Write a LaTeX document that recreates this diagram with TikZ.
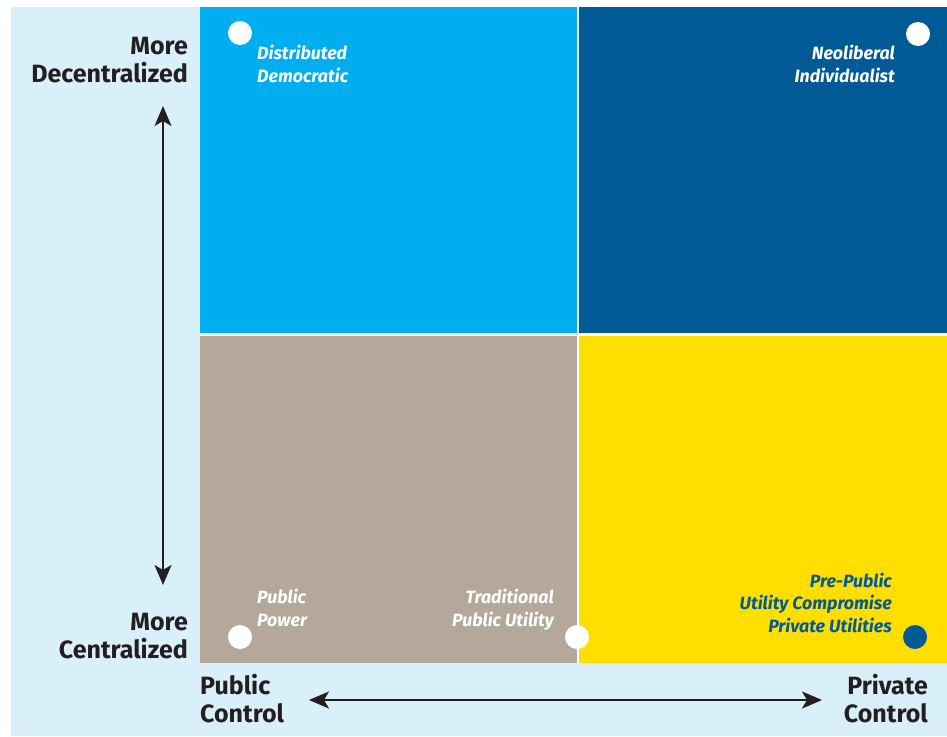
\documentclass[tikz,border=0pt]{standalone}
\usepackage{fontspec}
\setmainfont{Fira Sans}
\usetikzlibrary{arrows.meta}
\definecolor{bgblue}{HTML}{D9EFF9}
\definecolor{cyanq}{HTML}{00AEEF}
\definecolor{darkq}{HTML}{005A96}
\definecolor{tanq}{HTML}{B3A899}
\definecolor{yellowq}{HTML}{FFDE00}
\definecolor{ink}{HTML}{231F20}
\tikzset{
  quad/.style={draw=none},
  dot/.style={circle, inner sep=0pt, minimum size=24pt, fill=white},
  qlabel/.style={inner sep=0pt, text=white, font=\fontsize{17.8}{22.5}\selectfont\bfseries\itshape},
  axlabel/.style={inner sep=0pt, text=ink, font=\fontsize{25}{27.5}\selectfont\bfseries},
  axarrow/.style={draw=ink, line width=2pt, {Stealth[length=20pt,width=17pt,inset=5pt]}-{Stealth[length=20pt,width=17pt,inset=5pt]}}
}
\begin{document}
\begin{tikzpicture}[x=1pt,y=-1pt]
\useasboundingbox (0,0) rectangle (947,736);
\fill[white] (0,0) rectangle (947,736);
\fill[bgblue] (11,7) rectangle (947,736);
% quadrants
\fill[cyanq] (200,7) rectangle (577,333);
\fill[darkq] (579,7) rectangle (947,333);
\fill[tanq] (200,336) rectangle (577,663);
\fill[yellowq] (579,336) rectangle (947,663);
\fill[white] (577,7) rectangle (579,663);
\fill[white] (200,333) rectangle (947,336);
% dots
\node[dot] (d1) at (240,33) {};
\node[dot] (d2) at (918,34) {};
\node[dot] (d3) at (240,637) {};
\node[dot] (d4) at (577,637) {};
\node[dot, fill=darkq] (d5) at (915,637) {};
% quadrant labels (base = last line)
\node[qlabel, anchor=base west, align=left] (l1) at (257,82) {Distributed\\Democratic};
\node[qlabel, anchor=base east, align=right] (l2) at (895,82) {Neoliberal\\Individualist};
\node[qlabel, anchor=base west, align=left] (l3) at (257,626) {Public\\Power};
\node[qlabel, anchor=base east, align=right] (l4) at (554,626) {Traditional\\Public Utility};
\node[qlabel, text=darkq, anchor=base east, align=right] (l5) at (892,632) {Pre-Public\\Utility Compromise\\Private Utilities};
% axis labels
\node[axlabel, anchor=base east, align=right] (a1) at (188,82) {More\\Decentralized};
\node[axlabel, anchor=base east, align=right] (a2) at (188,658) {More\\Centralized};
\node[axlabel, anchor=base west, align=left] (a3) at (200,722) {Public\\Control};
\node[axlabel, anchor=base east, align=right] (a4) at (928,722) {Private\\Control};
% arrows
\coordinate (vt) at (163,106);
\coordinate (vb) at (163,585);
\coordinate (hl) at (309,700);
\coordinate (hr) at (822,700);
\draw[axarrow] (vt) -- (vb);
\draw[axarrow] (hl) -- (hr);
\end{tikzpicture}
\end{document}
